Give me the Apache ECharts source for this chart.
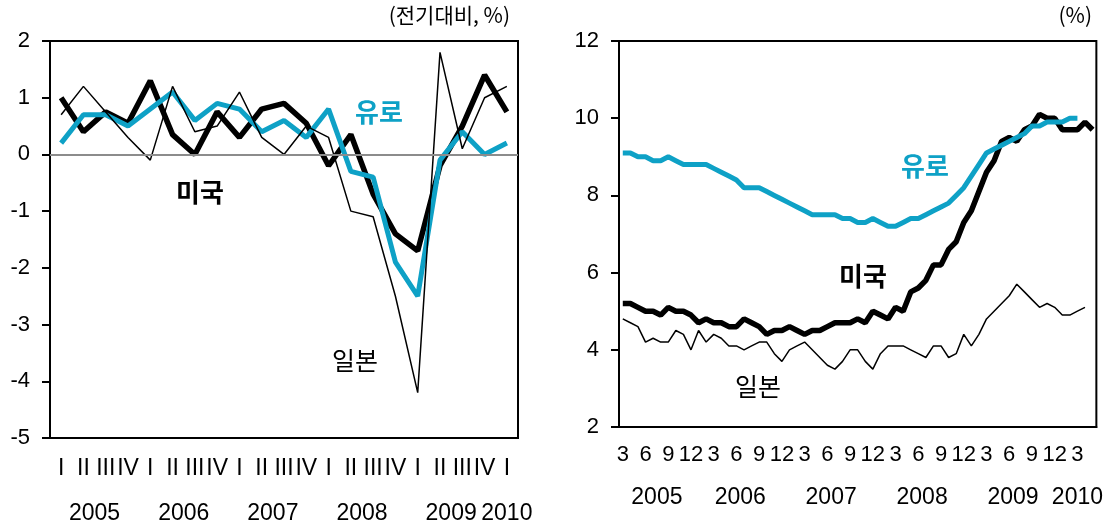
<!DOCTYPE html>
<html>
<head>
<meta charset="utf-8">
<script src="https://cdn.jsdelivr.net/npm/echarts@6/dist/echarts.min.js"></script>
<style>
html, body { margin: 0; padding: 0; background: #fff; }
#main { width: 1106px; height: 528px; }
</style>
</head>
<body>
<div id="main"></div>
<script>
// 경제성장률 (분기, 전기대비)
var quarters = ['I','II','III','IV','I','II','III','IV','I','II','III','IV','I','II','III','IV','I','II','III','IV','I'];
var quarterYears = ['2005','2005','2005','2005','2006','2006','2006','2006','2007','2007','2007','2007',
                    '2008','2008','2008','2008','2009','2009','2009','2009','2010'];
var gdpUS    = [1.0, 0.4, 0.75, 0.55, 1.3, 0.35, 0.0, 0.75, 0.3, 0.8, 0.9, 0.55, -0.2, 0.35, -0.7, -1.4, -1.7, -0.2, 0.5, 1.4, 0.75];
var gdpEuro  = [0.2, 0.7, 0.7, 0.5, 0.8, 1.1, 0.6, 0.9, 0.8, 0.4, 0.6, 0.3, 0.8, -0.3, -0.4, -1.9, -2.5, -0.1, 0.4, 0.0, 0.2];
var gdpJapan = [0.7, 1.2, 0.75, 0.3, -0.1, 1.2, 0.4, 0.5, 1.1, 0.3, 0.0, 0.5, 0.3, -1.0, -1.1, -2.5, -4.2, 1.8, 0.1, 1.0, 1.2];

// 실업률 (월, %) 2005.3 ~ 2010.5
var months = [];
for (var yy = 2005; yy <= 2010; yy++) {
    for (var mm = 1; mm <= 12; mm++) {
        if ((yy == 2005 && mm < 3) || (yy == 2010 && mm > 5)) continue;
        months.push(yy + '.' + mm);
    }
}
var unempUS = [5.2, 5.2, 5.1, 5.0, 5.0, 4.9, 5.1, 5.0, 5.0, 4.9,
               4.7, 4.8, 4.7, 4.7, 4.6, 4.6, 4.8, 4.7, 4.6, 4.4, 4.5, 4.5,
               4.6, 4.5, 4.4, 4.5, 4.5, 4.6, 4.7, 4.7, 4.7, 4.8, 4.7, 5.0,
               4.9, 4.8, 5.1, 5.0, 5.5, 5.6, 5.8, 6.2, 6.2, 6.6, 6.8, 7.3,
               7.6, 8.1, 8.6, 8.9, 9.4, 9.5, 9.4, 9.7, 9.8, 10.1, 10.0, 10.0,
               9.7, 9.7, 9.7, 9.9, 9.7];
var unempEuro = [9.1, 9.1, 9.0, 9.0, 8.9, 8.9, 9.0, 8.9, 8.8, 8.8,
                 8.8, 8.8, 8.7, 8.6, 8.5, 8.4, 8.2, 8.2, 8.2, 8.1, 8.0, 7.9,
                 7.8, 7.7, 7.6, 7.5, 7.5, 7.5, 7.5, 7.4, 7.4, 7.3, 7.3, 7.4,
                 7.3, 7.2, 7.2, 7.3, 7.4, 7.4, 7.5, 7.6, 7.7, 7.8, 8.0, 8.2,
                 8.5, 8.8, 9.1, 9.2, 9.3, 9.4, 9.5, 9.6, 9.8, 9.8, 9.9, 9.9,
                 9.9, 10.0, 10.0];
var unempJapan = [4.8, 4.7, 4.6, 4.2, 4.3, 4.2, 4.2, 4.5, 4.4, 4.0,
                  4.5, 4.2, 4.4, 4.3, 4.1, 4.1, 4.0, 4.1, 4.2, 4.2, 3.9, 3.7,
                  4.0, 4.1, 4.2, 4.0, 3.8, 3.6, 3.5, 3.7, 4.0, 4.0, 3.7, 3.5,
                  3.9, 4.1, 4.1, 4.1, 4.0, 3.9, 3.8, 4.1, 4.1, 3.8, 3.9, 4.4,
                  4.1, 4.4, 4.8, 5.0, 5.2, 5.4, 5.7, 5.5, 5.3, 5.1, 5.2, 5.1,
                  4.9, 4.9, 5.0, 5.1];

var EURO = '#0ea1c6';
var FONT = 'Arial, "Liberation Sans", sans-serif';
var KFONT = '"Noto Sans CJK KR", sans-serif';

// 연도 라벨 위치: 해당 연도 구간의 가운데
function yearCenters(yearOf) {
    var pos = {};
    yearOf.forEach(function (y, i) {
        if (!pos[y]) pos[y] = [i, i];
        pos[y][1] = i;
    });
    var out = {};
    Object.keys(pos).forEach(function (y) {
        out[((pos[y][0] + pos[y][1]) / 2 + 0.5).toFixed(1)] = y;
    });
    return out;
}
var qYearPos = yearCenters(quarterYears);
var mYearPos = yearCenters(months.map(function (m) { return m.split('.')[0]; }));

function yearAxis(grid, n, pos, margin) {
    return {
        type: 'value', gridIndex: grid, position: 'bottom', min: 0, max: n, interval: 0.5,
        axisLine: { show: false }, axisTick: { show: false }, splitLine: { show: false },
        axisLabel: {
            margin: margin, fontSize: 23, color: '#000', fontFamily: FONT,
            showMinLabel: true, showMaxLabel: true,
            formatter: function (v) { return pos[v.toFixed(1)] || ''; }
        }
    };
}

function yAxis(grid, min, max, step) {
    return {
        type: 'value', gridIndex: grid, min: min, max: max, interval: step,
        axisLine: { show: true, lineStyle: { color: '#000', width: 2 } },
        axisTick: { show: true, length: 8, lineStyle: { color: '#000', width: 2 } },
        splitLine: { show: false },
        axisLabel: { margin: 20, fontSize: 22, color: '#000', fontFamily: FONT }
    };
}

function line(name, x, y, data, color, width, extra) {
    var s = {
        name: name, type: 'line', xAxisIndex: x, yAxisIndex: y, data: data,
        showSymbol: false, symbol: 'none', silent: true, animation: false,
        lineStyle: { color: color, width: width }
    };
    return Object.assign(s, extra || {});
}

var chart = echarts.init(document.getElementById('main'));
chart.setOption({
    backgroundColor: '#fff',
    animation: false,
    grid: [
        { left: 50, top: 41, width: 468, height: 397, show: true, borderColor: '#000', borderWidth: 2 },
        { left: 619, top: 41, width: 478, height: 386, show: true, borderColor: '#000', borderWidth: 2 }
    ],
    xAxis: [
        {
            type: 'category', gridIndex: 0, data: quarters, boundaryGap: true,
            axisLine: { lineStyle: { color: '#000', width: 2 } }, axisTick: { show: false },
            axisLabel: { interval: 0, margin: 19, fontSize: 23, color: '#000', fontFamily: FONT }
        },
        yearAxis(0, quarters.length, qYearPos, 64),
        {
            type: 'category', gridIndex: 1, data: months, boundaryGap: true,
            axisLine: { lineStyle: { color: '#000', width: 2 } }, axisTick: { show: false },
            axisLabel: {
                margin: 17, fontSize: 22, color: '#000', fontFamily: FONT,
                interval: function (i, v) { return +v.split('.')[1] % 3 === 0; },
                formatter: function (v) { return v.split('.')[1]; }
            }
        },
        yearAxis(1, months.length, mYearPos, 59)
    ],
    yAxis: [yAxis(0, -5, 2, 1), yAxis(1, 2, 12, 2)],
    series: [
        line('미국', 0, 0, gdpUS, '#000', 5.5, {
            markLine: {
                silent: true, symbol: 'none', label: { show: false },
                lineStyle: { color: '#8c8c8c', width: 2, type: 'solid' },
                data: [{ yAxis: 0 }]
            }
        }),
        line('유로', 0, 0, gdpEuro, EURO, 5),
        line('일본', 0, 0, gdpJapan, '#000', 1.5),
        line('미국', 2, 1, unempUS, '#000', 5.5),
        line('유로', 2, 1, unempEuro, EURO, 5),
        line('일본', 2, 1, unempJapan, '#000', 1.5)
    ],
    graphic: [
        { type: 'text', right: 596, top: 5, style: { text: '(전기대비, %)', fill: '#000', font: '21px ' + KFONT } },
        { type: 'text', right: 14, top: 5, style: { text: '(%)', fill: '#000', font: '21px ' + KFONT } },
        { type: 'text', x: 200, y: 192, style: { text: '미국', fill: '#000', font: 'bold 26px ' + KFONT, align: 'center', verticalAlign: 'middle' } },
        { type: 'text', x: 379, y: 112, style: { text: '유로', fill: EURO, font: 'bold 26px ' + KFONT, align: 'center', verticalAlign: 'middle' } },
        { type: 'text', x: 355, y: 360, style: { text: '일본', fill: '#000', font: '25px ' + KFONT, align: 'center', verticalAlign: 'middle' } },
        { type: 'text', x: 925, y: 166, style: { text: '유로', fill: EURO, font: 'bold 26px ' + KFONT, align: 'center', verticalAlign: 'middle' } },
        { type: 'text', x: 863, y: 276, style: { text: '미국', fill: '#000', font: 'bold 26px ' + KFONT, align: 'center', verticalAlign: 'middle' } },
        { type: 'text', x: 758, y: 386, style: { text: '일본', fill: '#000', font: '25px ' + KFONT, align: 'center', verticalAlign: 'middle' } }
    ]
});
</script>
</body>
</html>
